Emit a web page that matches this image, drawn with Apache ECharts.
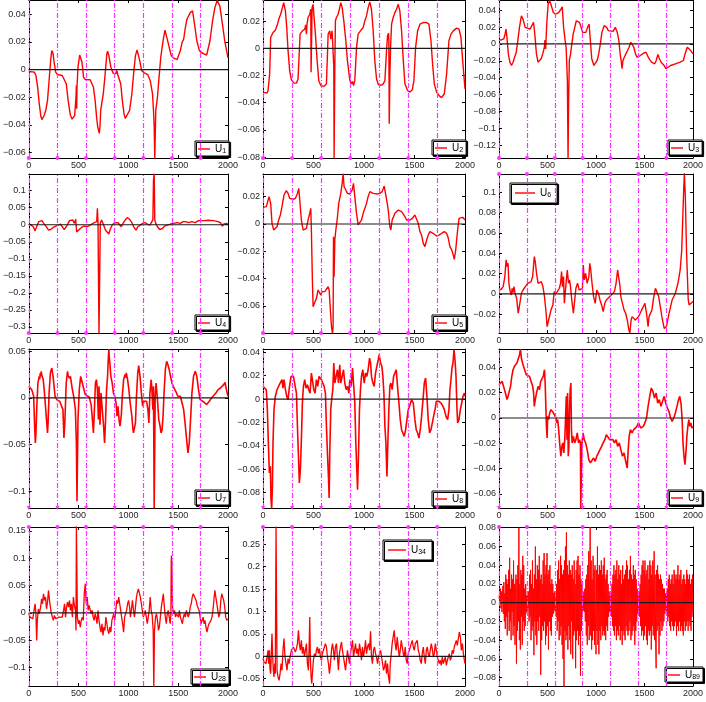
<!DOCTYPE html>
<html><head><meta charset="utf-8">
<script src="https://cdn.jsdelivr.net/npm/echarts@6/dist/echarts.min.js"></script>
<style>html,body{margin:0;padding:0;background:#fff}#c{width:706px;height:702px}</style>
</head><body><div id="c"></div>
<script>
// ---------------- data ----------------
const xTicks = [0, 500, 1000, 1500, 2000];
const vlineX = [0, 288, 575, 863, 1150, 1438, 1725];

const u1 = [[0,-0.0014],[56,-0.0019],[72,-0.0043],[89,-0.0127],[105,-0.0247],[122,-0.0342],[132,-0.0362],[155,-0.0331],[171,-0.0295],[188,-0.0223],[204,-0.0079],[221,0.0077],[231,0.0137],[244,0.0117],[254,0.0053],[270,-0.0019],[287,-0.0036],[336,-0.0043],[353,-0.0055],[376,-0.0103],[395,-0.0223],[418,-0.0331],[435,-0.0359],[451,-0.0347],[461,-0.0331],[474,-0.0199],[478,-0.0115],[481,-0.0283],[484,-0.0127],[494,0.0017],[511,0.0105],[524,0.0093],[534,0.0053],[550,-0.0055],[567,-0.0072],[616,-0.0074],[633,-0.0079],[649,-0.0127],[666,-0.0223],[682,-0.0354],[692,-0.0414],[699,-0.0426],[702,-0.0402],[708,-0.0462],[715,-0.0414],[722,-0.0295],[748,-0.0175],[764,-0.0055],[784,0.0113],[791,0.0132],[804,0.0101],[824,0.0017],[847,-0.0026],[873,-0.0031],[883,-0.0007],[893,-0.0036],[913,-0.0050],[923,-0.0103],[939,-0.0223],[956,-0.0319],[969,-0.0354],[982,-0.0359],[1012,-0.0295],[1035,-0.0175],[1054,-0.0019],[1071,0.0101],[1087,0.0141],[1110,0.0077],[1133,-0.0007],[1160,-0.0024],[1193,-0.0036],[1219,-0.0079],[1242,-0.0175],[1252,-0.0295],[1259,-0.0414],[1265,-0.0645],[1272,-0.0645],[1275,-0.0295],[1292,-0.0199],[1308,-0.0055],[1325,0.0089],[1348,0.0208],[1367,0.0285],[1390,0.0220],[1410,0.0160],[1430,0.0101],[1450,0.0084],[1489,0.0072],[1506,0.0084],[1522,0.0137],[1539,0.0196],[1555,0.0220],[1572,0.0304],[1588,0.0364],[1621,0.0412],[1644,0.0424],[1664,0.0328],[1687,0.0208],[1713,0.0137],[1746,0.0117],[1786,0.0105],[1802,0.0113],[1819,0.0208],[1845,0.0352],[1868,0.0448],[1891,0.0500],[1918,0.0460],[1944,0.0328],[1967,0.0208],[2000,0.0084]];

const u2 = [[0,-0.0322],[17,-0.0329],[40,-0.0329],[50,-0.0310],[66,-0.0188],[76,0.0080],[99,0.0117],[122,0.0134],[142,0.0173],[159,0.0222],[175,0.0251],[192,0.0300],[205,0.0337],[222,0.0276],[235,0.0154],[248,-0.0017],[264,-0.0163],[281,-0.0232],[307,-0.0256],[331,-0.0256],[347,-0.0224],[357,-0.0066],[367,0.0105],[390,0.0129],[413,0.0141],[423,0.0173],[430,0.0105],[436,0.0178],[446,0.0227],[463,0.0251],[473,0.0288],[476,-0.0176],[479,-0.0176],[486,0.0300],[496,0.0324],[502,0.0263],[519,0.0105],[536,-0.0090],[552,-0.0237],[572,-0.0273],[605,-0.0280],[628,-0.0261],[645,0.0105],[661,0.0129],[671,0.0068],[684,0.0129],[694,0.0117],[701,-0.0139],[704,-0.0810],[708,-0.0810],[711,-0.0139],[717,0.0202],[727,0.0227],[744,0.0251],[760,0.0300],[770,0.0337],[784,0.0300],[800,0.0202],[820,0.0056],[836,-0.0090],[860,-0.0237],[876,-0.0261],[886,-0.0244],[896,-0.0273],[909,-0.0237],[926,0.0007],[942,0.0105],[965,0.0129],[992,0.0154],[1008,0.0202],[1025,0.0239],[1041,0.0300],[1058,0.0341],[1074,0.0288],[1091,0.0129],[1107,-0.0090],[1124,-0.0224],[1141,-0.0266],[1167,-0.0273],[1190,-0.0261],[1207,-0.0237],[1223,-0.0017],[1233,0.0093],[1243,0.0112],[1246,0.0056],[1250,-0.0554],[1253,-0.0383],[1256,-0.0212],[1263,0.0007],[1273,0.0178],[1289,0.0227],[1306,0.0263],[1322,0.0288],[1339,0.0324],[1355,0.0276],[1372,0.0129],[1389,-0.0090],[1405,-0.0261],[1431,-0.0310],[1455,-0.0322],[1478,-0.0305],[1494,-0.0237],[1511,0.0007],[1531,0.0129],[1554,0.0178],[1587,0.0190],[1620,0.0190],[1643,0.0178],[1663,0.0056],[1679,-0.0115],[1696,-0.0261],[1719,-0.0322],[1742,-0.0346],[1769,-0.0363],[1795,-0.0334],[1818,-0.0188],[1841,0.0056],[1861,0.0105],[1884,0.0129],[1917,0.0149],[1941,0.0141],[1960,0.0080],[1977,-0.0090],[2000,-0.0298]];

const u3 = [[0,0.0047],[23,0.0047],[49,0.0059],[63,0.0118],[72,0.0176],[82,0.0078],[96,-0.0118],[112,-0.0216],[129,-0.0255],[145,-0.0216],[161,-0.0157],[178,-0.0098],[194,0.0039],[211,0.0196],[231,0.0333],[247,0.0294],[270,0.0196],[287,0.0176],[320,0.0176],[336,0.0196],[356,0.0255],[369,0.0118],[386,-0.0118],[402,-0.0216],[418,-0.0235],[435,-0.0176],[451,-0.0118],[468,-0.0039],[474,0.0047],[481,-0.0059],[494,0.0274],[507,0.0470],[521,0.0515],[540,0.0451],[560,0.0372],[583,0.0353],[616,0.0372],[639,0.0412],[652,0.0439],[666,0.0196],[682,0.0039],[692,-0.0039],[705,-0.0431],[712,-0.1360],[715,-0.1360],[718,-0.0666],[725,-0.0196],[738,-0.0118],[751,0],[765,0.0118],[781,0.0196],[797,0.0274],[811,0.0294],[830,0.0255],[847,0.0196],[863,0.0137],[880,0.0157],[896,0.0137],[913,0.0196],[929,0.0235],[942,0.0039],[956,-0.0176],[979,-0.0255],[995,-0.0235],[1012,-0.0196],[1028,-0.0118],[1045,0],[1061,0.0137],[1084,0.0216],[1110,0.0196],[1127,0.0157],[1143,0.0137],[1176,0.0149],[1199,0.0196],[1219,0.0137],[1236,0.0039],[1249,-0.0118],[1259,-0.0196],[1269,-0.0294],[1278,-0.0196],[1292,-0.0157],[1308,-0.0118],[1325,-0.0078],[1341,-0.0039],[1358,0.0020],[1374,0.0008],[1390,-0.0039],[1407,-0.0118],[1423,-0.0157],[1456,-0.0137],[1489,-0.0110],[1516,-0.0098],[1539,-0.0157],[1555,-0.0188],[1572,-0.0216],[1588,-0.0216],[1605,-0.0235],[1621,-0.0196],[1638,-0.0125],[1654,-0.0176],[1671,-0.0216],[1687,-0.0235],[1703,-0.0255],[1720,-0.0294],[1736,-0.0274],[1769,-0.0255],[1819,-0.0235],[1868,-0.0216],[1901,-0.0196],[1918,-0.0118],[1941,-0.0039],[1957,-0.0059],[1977,-0.0078],[2000,-0.0118]];

const u4 = [[0,0.002],[23,-0.001],[46,-0.006],[63,-0.018],[79,-0.006],[99,0.009],[115,0.014],[132,0.012],[145,0.006],[165,0.002],[181,-0.008],[198,-0.016],[221,-0.014],[244,-0.008],[264,-0.004],[297,-0.001],[320,0.002],[336,-0.006],[356,-0.014],[376,-0.006],[395,0.004],[409,0.012],[425,0.009],[442,0.014],[458,0.004],[471,0.016],[474,0.014],[481,-0.021],[494,-0.016],[517,-0.011],[550,-0.004],[587,-0.006],[606,-0.001],[633,0.002],[659,0.006],[682,0.009],[689,0.048],[695,0.004],[705,-0.320],[712,-0.320],[718,0.004],[731,0.014],[741,0.009],[758,-0.006],[771,-0.016],[791,-0.018],[804,-0.027],[817,-0.014],[837,-0.001],[863,0.006],[880,0.004],[896,0.006],[913,0.002],[929,-0.006],[946,0.004],[969,0.014],[988,0.021],[1012,0.016],[1035,0.006],[1054,-0.006],[1077,-0.016],[1094,-0.006],[1120,-0.001],[1143,0.004],[1166,0.006],[1193,0.002],[1216,-0.001],[1232,0.004],[1246,0.014],[1249,0.073],[1252,0.131],[1259,0.150],[1262,0.150],[1265,0.014],[1275,0.004],[1292,-0.006],[1315,-0.014],[1341,-0.011],[1364,-0.004],[1390,-0.001],[1423,0.002],[1456,0.004],[1489,0.006],[1522,0.004],[1549,0.009],[1572,0.009],[1605,0.006],[1638,0.009],[1671,0.006],[1704,0.012],[1753,0.012],[1802,0.013],[1852,0.012],[1901,0.009],[1924,0.006],[1944,-0.004],[1957,0.002],[1984,0.004],[2000,0.002]];

const u5 = [[0,0.0122],[33,0.0127],[50,0.0139],[60,0.0200],[69,0.0212],[76,0.0151],[89,0.0005],[106,-0.0044],[122,-0.0056],[139,-0.0020],[155,0.0029],[172,0.0066],[188,0.0127],[208,0.0212],[231,0.0244],[248,0.0224],[264,0.0188],[298,0.0181],[321,0.0188],[341,0.0224],[354,0.0261],[364,0.0176],[380,0.0029],[397,-0.0044],[413,-0.0056],[430,-0.0032],[446,0.0029],[463,0.0078],[473,0.0115],[479,-0.0044],[489,-0.0410],[496,-0.0605],[512,-0.0593],[529,-0.0544],[545,-0.0483],[562,-0.0471],[572,-0.0520],[585,-0.0495],[595,-0.0508],[612,-0.0495],[628,-0.0488],[645,-0.0459],[655,-0.0483],[665,-0.0605],[678,-0.0752],[688,-0.0800],[694,-0.0752],[698,-0.0093],[704,-0.0386],[711,-0.0117],[721,-0.0044],[734,0.0029],[750,0.0151],[770,0.0224],[784,0.0298],[793,0.0370],[803,0.0273],[820,0.0249],[836,0.0224],[860,0.0220],[883,0.0249],[896,0.0298],[909,0.0200],[926,0.0078],[942,-0.0007],[959,-0.0020],[975,0.0029],[992,0.0078],[1008,0.0090],[1025,0.0151],[1041,0.0200],[1058,0.0237],[1074,0.0249],[1091,0.0224],[1107,0.0212],[1134,0.0220],[1157,0.0224],[1180,0.0237],[1200,0.0278],[1213,0.0224],[1230,0.0151],[1240,0.0102],[1256,-0.0020],[1266,-0.0044],[1279,0.0029],[1293,0.0054],[1306,0.0078],[1322,0.0090],[1339,0.0102],[1355,0.0107],[1372,0.0090],[1389,0.0078],[1405,0.0054],[1422,0.0029],[1438,0.0017],[1455,0.0029],[1478,0.0041],[1504,0.0066],[1521,0.0054],[1537,0.0005],[1554,-0.0056],[1570,-0.0081],[1587,-0.0142],[1603,-0.0166],[1620,-0.0117],[1636,-0.0081],[1653,-0.0056],[1670,-0.0063],[1693,-0.0073],[1719,-0.0088],[1742,-0.0081],[1769,-0.0068],[1795,-0.0056],[1818,-0.0068],[1835,-0.0105],[1851,-0.0166],[1868,-0.0190],[1884,-0.0227],[1894,-0.0259],[1908,-0.0190],[1927,-0.0044],[1941,0.0041],[1960,0.0054],[1977,0.0049],[2000,0.0029]];

const u6 = [[0,0.0039],[23,0.0046],[43,0.0072],[60,0.0171],[73,0.0335],[83,0.0269],[93,0.0302],[102,0.0105],[116,0.0023],[126,-0.0010],[136,0.0056],[145,0.0013],[155,0.0072],[165,0.0007],[182,-0.0043],[198,-0.0190],[215,-0.0092],[231,0.0007],[248,0.0039],[271,0.0072],[298,0.0105],[331,0.0121],[347,0.0171],[364,0.0367],[374,0.0318],[387,0.0203],[403,0.0105],[420,0.0089],[436,0.0121],[453,0.0072],[469,-0.0026],[486,-0.0190],[496,-0.0321],[512,-0.0256],[536,-0.0157],[555,-0.0108],[569,0.0023],[582,0],[602,0.0023],[622,0.0056],[635,0.0105],[645,0.0220],[655,0.0072],[665,0.0171],[674,-0.0092],[688,0.0072],[704,0.0236],[717,0.0105],[727,0.0138],[737,0.0072],[750,-0.0059],[767,-0.0190],[777,-0.0092],[793,0.0056],[810,0.0105],[827,0.0039],[843,0.0056],[860,0.0056],[869,0.0285],[879,0.0138],[893,0.0203],[909,0.0105],[926,0.0171],[936,0.0302],[946,0.0236],[959,0.0105],[975,-0.0026],[992,-0.0092],[1008,0.0039],[1025,0.0007],[1041,-0.0059],[1058,-0.0108],[1074,-0.0174],[1091,-0.0092],[1107,-0.0059],[1124,-0.0043],[1157,-0.0010],[1190,0.0023],[1207,0.0105],[1223,0.0236],[1233,0.0171],[1246,0.0089],[1256,-0.0026],[1273,-0.0092],[1289,-0.0157],[1306,-0.0190],[1322,-0.0256],[1339,-0.0354],[1349,-0.0385],[1362,-0.0256],[1372,-0.0223],[1389,-0.0239],[1405,-0.0256],[1422,-0.0239],[1438,-0.0223],[1455,-0.0190],[1471,-0.0157],[1488,-0.0125],[1504,-0.0092],[1521,-0.0190],[1537,-0.0321],[1547,-0.0223],[1560,-0.0239],[1577,-0.0157],[1593,-0.0043],[1613,0.0056],[1630,0.0072],[1646,-0.0026],[1663,-0.0125],[1679,-0.0223],[1703,-0.0338],[1726,-0.0321],[1746,-0.0223],[1769,-0.0125],[1785,-0.0059],[1818,0.0007],[1845,0.0105],[1868,0.0236],[1884,0.0433],[1894,0.0728],[1904,0.1023],[1911,0.1190],[1921,0.0958],[1934,0.0400],[1951,-0.0059],[1960,-0.0108],[1977,-0.0092],[2000,-0.0075]];

const u7 = [[0,0.0125],[13,0.0107],[30,0.0089],[40,0.0054],[49,0.0018],[59,-0.0303],[66,-0.0482],[72,-0.0375],[82,-0.0054],[92,0.0161],[99,0.0140],[105,0.0232],[110,0.0200],[115,0.0268],[120,0.0230],[125,0.0286],[130,0.0250],[135,0.0232],[145,0.0196],[155,0.0089],[165,-0.0054],[178,-0.0232],[188,-0.0375],[194,-0.0268],[204,0.0054],[217,0.0268],[231,0.0321],[244,0.0232],[254,0.0125],[264,0.0018],[287,-0.0025],[310,-0.0036],[330,-0.0054],[343,-0.0125],[353,-0.0428],[362,-0.0268],[376,0.0161],[389,0.0286],[395,0.0240],[402,0.0250],[410,0.0210],[418,0.0232],[435,0.0107],[451,0.0018],[468,-0.0125],[478,-0.0482],[484,-0.1107],[491,-0.0482],[494,-0.0232],[507,0.0089],[521,0.0232],[528,0.0200],[534,0.0179],[550,0.0107],[567,0.0036],[583,0.0018],[606,0.0011],[626,-0.0071],[639,-0.0232],[649,-0.0375],[659,-0.0125],[669,0.0161],[679,0.0196],[689,0.0089],[699,-0.0232],[705,0.0125],[715,-0.0286],[725,0.0054],[738,-0.0125],[751,-0.0303],[761,-0.0482],[771,-0.0232],[781,0.0089],[791,0.0232],[797,0.0393],[804,0.0525],[809,0.0420],[814,0.0375],[824,0.0232],[837,0.0161],[850,0.0054],[863,0.0018],[876,-0.0054],[886,-0.0196],[896,-0.0089],[906,-0.0232],[916,-0.0303],[929,-0.0179],[939,0.0018],[952,0.0196],[965,0.0250],[972,0.0220],[979,0.0268],[992,0.0196],[1005,0.0089],[1018,-0.0054],[1035,-0.0196],[1045,-0.0330],[1051,-0.0375],[1061,-0.0393],[1071,-0.0268],[1081,0.0018],[1094,0.0268],[1104,0.0346],[1117,0.0232],[1130,0.0054],[1143,-0.0089],[1157,-0.0036],[1170,-0.0054],[1183,-0.0036],[1196,-0.0125],[1206,-0.0268],[1216,0.0054],[1229,0.0196],[1236,0.0089],[1246,-0.0125],[1252,0.0125],[1259,-0.1185],[1265,-0.1185],[1269,0.0018],[1278,0.0161],[1292,-0.0018],[1305,-0.0232],[1318,-0.0303],[1328,-0.0375],[1338,-0.0339],[1348,-0.0196],[1358,0.0054],[1371,0.0303],[1384,0.0393],[1397,0.0357],[1410,0.0303],[1423,0.0232],[1437,0.0161],[1450,0.0125],[1463,0.0107],[1483,0.0054],[1496,0.0018],[1509,0.0036],[1522,0.0018],[1539,-0.0054],[1555,-0.0125],[1572,-0.0303],[1588,-0.0482],[1598,-0.0589],[1611,-0.0482],[1624,-0.0232],[1638,0.0054],[1654,0.0232],[1671,0.0286],[1687,0.0232],[1704,0.0089],[1720,-0.0018],[1736,-0.0036],[1760,-0.0046],[1786,-0.0071],[1812,-0.0036],[1835,0],[1852,0.0018],[1878,0.0054],[1901,0.0089],[1924,0.0107],[1944,0.0125],[1957,0.0143],[1970,0.0168],[1984,0.0089],[2000,0.0018]];

const u8 = [[0,0.0109],[17,0.0094],[33,0.0080],[43,-0.0091],[53,-0.0377],[63,-0.0634],[73,-0.0577],[79,-0.0857],[86,-0.0940],[93,-0.0749],[99,-0.0377],[109,-0.0091],[122,0.0023],[139,0.0080],[149,0.0066],[162,0.0123],[175,0.0137],[188,0.0166],[198,0.0094],[208,0.0166],[222,0.0080],[235,0.0023],[248,-0.0006],[258,0.0080],[268,0.0137],[278,0.0194],[288,0.0194],[301,0.0194],[314,0.0180],[331,0.0051],[341,-0.0234],[350,-0.0463],[360,-0.0720],[370,-0.0606],[380,-0.0349],[390,-0.0034],[400,0.0109],[413,0.0166],[426,0.0094],[440,0.0123],[453,0.0080],[466,0.0051],[479,0.0223],[489,0.0166],[503,0.0080],[516,0.0051],[529,0.0166],[542,0.0109],[555,0.0194],[565,0.0180],[579,0.0166],[592,0.0137],[605,0.0109],[618,0.0051],[628,-0.0234],[638,-0.0463],[648,-0.0663],[655,-0.0849],[661,-0.0463],[671,-0.0091],[681,0.0009],[691,0.0080],[701,0.0309],[711,0.0137],[724,0.0194],[737,0.0251],[747,0.0137],[760,0.0294],[770,0.0137],[784,0.0194],[797,0.0251],[810,0.0137],[823,0.0080],[836,0.0109],[850,0.0051],[860,0.0166],[873,0.0109],[886,0.0266],[896,0.0137],[909,-0.0034],[919,-0.0377],[929,-0.0606],[936,-0.0777],[946,-0.0463],[955,-0.0091],[965,0.0080],[975,0.0194],[988,0.0251],[1002,0.0137],[1015,0.0223],[1028,0.0194],[1041,0.0251],[1055,0.0351],[1065,0.0309],[1074,0.0194],[1088,0.0137],[1101,0.0109],[1114,0.0223],[1127,0.0280],[1141,0.0337],[1150,0.0380],[1164,0.0309],[1177,0.0280],[1187,0.0194],[1197,0.0051],[1207,-0.0234],[1217,-0.0377],[1227,-0.0663],[1236,-0.0377],[1246,-0.0091],[1256,0.0109],[1266,0.0137],[1279,0.0080],[1293,0.0194],[1306,0.0223],[1319,0.0251],[1332,0.0109],[1346,-0.0034],[1359,-0.0177],[1372,-0.0263],[1385,-0.0291],[1398,-0.0320],[1412,-0.0263],[1425,-0.0177],[1438,-0.0091],[1455,-0.0049],[1471,-0.0006],[1488,-0.0034],[1504,-0.0177],[1517,-0.0263],[1531,-0.0291],[1544,-0.0334],[1557,-0.0263],[1570,-0.0149],[1584,-0.0006],[1597,0.0137],[1610,0.0180],[1623,0.0023],[1636,-0.0177],[1650,-0.0291],[1663,-0.0263],[1676,-0.0206],[1689,-0.0149],[1703,-0.0091],[1716,-0.0020],[1729,-0.0006],[1742,-0.0020],[1762,-0.0034],[1782,-0.0063],[1795,-0.0091],[1812,-0.0149],[1828,-0.0177],[1841,-0.0091],[1851,0.0080],[1861,0.0166],[1871,0.0266],[1881,0.0309],[1891,0.0425],[1901,0.0337],[1911,0.0194],[1921,-0.0091],[1927,-0.0206],[1940,-0.0177],[1954,-0.0091],[1967,-0.0034],[1980,0.0023],[1994,0.0051],[2000,0.0023]];

const u9 = [[0,0.0263],[17,0.0276],[33,0.0289],[50,0.0276],[66,0.0197],[83,0.0145],[93,0.0171],[106,0.0210],[119,0.0250],[132,0.0329],[145,0.0381],[159,0.0408],[172,0.0395],[185,0.0434],[198,0.0447],[212,0.0500],[221,0.0545],[231,0.0473],[248,0.0421],[264,0.0381],[281,0.0342],[298,0.0329],[314,0.0329],[331,0.0316],[347,0.0250],[357,0.0197],[364,0.0092],[374,0.0145],[387,0.0197],[403,0.0250],[417,0.0224],[430,0.0289],[443,0.0276],[456,0.0329],[469,0.0381],[476,0.0276],[483,0.0092],[489,-0.0066],[496,-0.0158],[502,0.0013],[512,-0.0013],[522,0.0039],[536,0.0066],[549,0.0053],[562,0.0039],[579,0.0026],[588,0],[595,-0.0039],[605,-0.0013],[615,-0.0092],[625,-0.0197],[638,-0.0302],[648,-0.0224],[658,-0.0197],[668,-0.0276],[678,-0.0171],[688,0.0039],[694,0.0171],[701,-0.0171],[707,0.0197],[714,-0.0302],[721,-0.0224],[727,0.0066],[734,0.0224],[741,0.0276],[747,-0.0092],[754,-0.0197],[767,-0.0145],[780,-0.0197],[793,-0.0171],[807,-0.0118],[820,-0.0197],[830,-0.0171],[840,-0.0197],[843,-0.0720],[850,-0.0720],[853,-0.0224],[866,-0.0118],[879,-0.0171],[893,-0.0197],[909,-0.0250],[926,-0.0329],[942,-0.0355],[959,-0.0342],[975,-0.0316],[992,-0.0342],[1008,-0.0302],[1025,-0.0276],[1041,-0.0250],[1058,-0.0224],[1074,-0.0197],[1091,-0.0171],[1107,-0.0132],[1124,-0.0145],[1141,-0.0171],[1157,-0.0158],[1174,-0.0171],[1190,-0.0197],[1207,-0.0171],[1223,-0.0224],[1240,-0.0197],[1256,-0.0250],[1273,-0.0302],[1289,-0.0276],[1306,-0.0342],[1322,-0.0395],[1332,-0.0250],[1342,-0.0145],[1355,-0.0092],[1372,-0.0118],[1389,-0.0092],[1405,-0.0079],[1422,-0.0066],[1438,-0.0039],[1448,-0.0053],[1461,-0.0079],[1474,-0.0092],[1488,-0.0066],[1504,-0.0039],[1521,0],[1537,0.0092],[1554,0.0171],[1570,0.0237],[1587,0.0210],[1603,0.0158],[1620,0.0197],[1636,0.0118],[1653,0.0145],[1670,0.0092],[1686,0.0132],[1703,0.0171],[1719,0.0118],[1736,0.0079],[1752,0.0053],[1769,0],[1785,-0.0026],[1802,0],[1818,0.0039],[1835,0.0092],[1851,0.0145],[1864,0.0171],[1878,0.0105],[1888,-0.0013],[1897,-0.0197],[1907,-0.0302],[1917,-0.0368],[1927,-0.0276],[1937,-0.0145],[1947,-0.0066],[1957,-0.0013],[1967,-0.0066],[1977,-0.0039],[1990,-0.0079],[2000,-0.0066]];

const u28 = [[0,-0.0018],[13,-0.0079],[26,-0.0049],[40,-0.0110],[53,0.0043],[63,0.0165],[72,-0.0018],[79,-0.0506],[86,-0.0140],[96,0.0073],[105,-0.0018],[119,0.0104],[129,0.0256],[138,0.0165],[148,0.0348],[158,0.0226],[168,0.0287],[178,0.0073],[188,0.0195],[198,0.0409],[208,0.0226],[217,0.0104],[227,-0.0018],[237,-0.0079],[247,-0.0140],[257,-0.0049],[270,-0.0110],[287,-0.0140],[303,-0.0079],[320,-0.0110],[336,-0.0079],[349,0.0043],[359,0.0165],[369,-0.0079],[379,0.0104],[389,0.0195],[399,0.0104],[409,0.0226],[418,0.0043],[428,0.0165],[438,-0.0079],[448,0.0287],[458,0.0134],[468,0.0043],[474,-0.0323],[478,0.1600],[484,0.1600],[488,-0.0079],[498,-0.0201],[507,-0.0140],[517,-0.0262],[527,-0.0140],[537,-0.0079],[547,-0.0140],[557,0.0348],[567,0.0531],[577,0.0165],[587,0.0287],[596,0.0043],[606,0.0134],[616,0.0104],[626,-0.0018],[636,0.0043],[646,-0.0079],[656,-0.0140],[666,-0.0018],[675,-0.0079],[685,-0.0201],[695,0.0043],[705,-0.0140],[715,-0.0262],[725,-0.0354],[735,-0.0201],[745,-0.0415],[755,-0.0262],[764,-0.0323],[774,-0.0079],[784,-0.0201],[794,-0.0323],[804,-0.0384],[814,-0.0262],[824,-0.0354],[834,-0.0140],[844,-0.0079],[853,-0.0018],[863,-0.0140],[873,0.0043],[883,0.0226],[893,0.0165],[903,0.0287],[913,0.0165],[923,0.0043],[932,-0.0079],[942,-0.0201],[952,-0.0354],[962,-0.0079],[972,-0.0018],[982,0.0043],[992,0.0165],[1002,0.0226],[1012,0.0104],[1021,-0.0079],[1031,0.0073],[1041,0.0226],[1051,0.0043],[1061,-0.0079],[1071,0.0104],[1081,0.0287],[1091,0.0378],[1101,0.0439],[1110,0.0409],[1120,0.0287],[1130,0.0165],[1140,0.0043],[1150,-0.0079],[1160,-0.0018],[1170,0.0043],[1180,-0.0079],[1190,-0.0201],[1199,-0.0079],[1209,0.0043],[1219,0.0287],[1229,0.0043],[1239,-0.0049],[1249,-0.0323],[1255,-0.1400],[1259,-0.1400],[1262,-0.0323],[1272,-0.0079],[1282,-0.0018],[1292,-0.0140],[1302,-0.0323],[1311,-0.0262],[1321,-0.0079],[1331,0.0104],[1341,0.0226],[1351,0.0348],[1361,0.0104],[1371,-0.0079],[1381,-0.0201],[1390,-0.0018],[1400,0.0043],[1410,-0.0079],[1420,-0.0201],[1427,-0.0018],[1430,0.0958],[1433,0.1049],[1437,0.0836],[1443,0.0104],[1453,-0.0018],[1463,0.0043],[1473,-0.0079],[1483,-0.0018],[1493,-0.0049],[1503,-0.0079],[1512,0.0043],[1522,-0.0079],[1532,-0.0140],[1542,-0.0201],[1552,-0.0079],[1562,-0.0018],[1572,-0.0079],[1582,0.0043],[1592,-0.0018],[1601,-0.0079],[1611,-0.0018],[1621,0.0104],[1631,0.0165],[1641,0.0287],[1651,0.0348],[1661,0.0378],[1671,0.0317],[1680,0.0226],[1690,0.0134],[1700,0.0104],[1710,0.0043],[1720,-0.0079],[1730,-0.0201],[1740,-0.0140],[1750,-0.0079],[1760,-0.0201],[1769,-0.0140],[1779,-0.0262],[1789,-0.0354],[1799,-0.0262],[1809,-0.0201],[1819,-0.0171],[1829,-0.0140],[1839,-0.0079],[1849,0.0043],[1858,0.0226],[1868,0.0409],[1878,0.0287],[1888,0.0165],[1898,0.0043],[1908,-0.0079],[1918,-0.0018],[1928,0.0226],[1937,0.0348],[1947,0.0287],[1957,0.0226],[1967,0.0104],[1977,-0.0079],[1987,-0.0140],[2000,-0.0110]];

const u34 = [[0,-0.0052],[10,-0.0126],[20,-0.0089],[30,-0.0164],[40,-0.0201],[50,0.0134],[56,-0.0164],[63,0.0134],[69,-0.0275],[76,-0.0387],[83,0.0134],[89,0.0506],[96,-0.0015],[102,-0.0312],[109,-0.0461],[116,-0.0164],[122,-0.0387],[129,0.2900],[136,0.2900],[139,-0.0312],[149,-0.0461],[159,-0.0536],[169,-0.0387],[179,-0.0164],[188,-0.0312],[198,0.0134],[208,0.0394],[218,-0.0015],[228,-0.0164],[238,-0.0312],[248,-0.0052],[258,-0.0164],[268,-0.0015],[281,0.0134],[291,0.0171],[301,0.0208],[311,0.0246],[321,0.0097],[331,0.0171],[341,0.0283],[351,0.0580],[360,0.0283],[370,0.0134],[380,0.0357],[390,0.0060],[400,0.0208],[410,-0.0015],[420,0.0134],[430,0.0283],[440,-0.0164],[450,-0.0312],[456,0.0134],[463,0.0878],[469,-0.0015],[476,-0.0461],[483,-0.0610],[489,-0.0387],[499,-0.0089],[509,0.0060],[519,-0.0015],[529,0.0134],[539,0.0208],[549,0.0060],[559,0.0171],[569,-0.0015],[579,-0.0089],[588,0.0060],[598,0.0134],[608,0.0208],[618,0.0283],[628,0.0208],[638,-0.0015],[648,-0.0164],[658,-0.0387],[668,-0.0164],[678,0.0134],[688,0.0283],[698,0.0134],[707,-0.0089],[717,0.0208],[727,0.0283],[737,-0.0015],[747,-0.0312],[757,0.0060],[767,0.0208],[777,0.0320],[787,0.0134],[797,-0.0015],[807,-0.0164],[817,-0.0312],[827,-0.0089],[836,0.0134],[846,-0.0015],[856,-0.0164],[866,0.0060],[876,0.0208],[886,0.0357],[896,-0.0015],[906,0.0134],[916,0.0283],[926,0.0060],[936,0.0171],[946,-0.0015],[955,0.0283],[965,0.0134],[975,-0.0089],[985,0.0208],[995,-0.0015],[1005,0.0134],[1015,0.0357],[1025,0.0060],[1035,0.0208],[1045,0.0283],[1055,0.0134],[1065,0.0558],[1074,-0.0015],[1084,-0.0164],[1094,0.0134],[1104,0.0208],[1114,0.0060],[1124,-0.0015],[1134,-0.0164],[1144,-0.0015],[1154,0.0060],[1164,0.0134],[1174,-0.0015],[1184,-0.0164],[1193,-0.0312],[1203,-0.0238],[1213,-0.0089],[1223,-0.0387],[1233,-0.0164],[1243,-0.0461],[1253,-0.0610],[1260,-0.0164],[1270,0.0060],[1279,0.0283],[1289,0.0432],[1299,0.0580],[1309,0.0283],[1319,0.0134],[1329,0.0432],[1339,0.0208],[1349,-0.0015],[1359,0.0134],[1369,0.0357],[1379,0.0208],[1389,0.0060],[1398,-0.0015],[1408,0.0208],[1418,-0.0089],[1428,-0.0164],[1438,0.0060],[1448,0.0134],[1458,0.0208],[1468,0.0283],[1478,0.0357],[1488,0.0208],[1498,0.0134],[1508,0.0283],[1517,0.0246],[1527,0.0357],[1537,0.0134],[1547,0.0060],[1557,-0.0089],[1567,-0.0164],[1577,0.0060],[1587,0.0208],[1597,-0.0015],[1607,-0.0164],[1617,0.0134],[1627,0.0208],[1636,0.0060],[1646,-0.0015],[1656,0.0134],[1666,0.0283],[1676,0.0171],[1686,-0.0015],[1696,0.0060],[1706,0.0283],[1716,0.0134],[1726,-0.0015],[1736,-0.0089],[1746,-0.0164],[1755,-0.0089],[1765,-0.0201],[1775,-0.0015],[1785,-0.0164],[1795,-0.0089],[1805,-0.0015],[1815,-0.0201],[1825,-0.0089],[1835,-0.0015],[1845,0.0060],[1855,-0.0089],[1865,-0.0015],[1874,0.0134],[1884,0.0060],[1894,0.0208],[1904,0.0283],[1914,0.0357],[1924,0.0246],[1934,0.0283],[1944,0.0543],[1954,0.0432],[1964,0.0134],[1974,0.0283],[1984,0.0060],[1994,-0.0089],[2000,-0.0164]];

// U89 read every 5 units of x, starting at 0
const u89Step = 5;
const u89Y = [
 0.004,0.010,0.002,0.015,-0.006,0.012,-0.010,0.005,0.018,-0.012,0.022,-0.020,0.010,-0.028,0.030,-0.015,0.025,-0.035,0.020,-0.010,
 0.035,-0.030,0.048,-0.020,0.015,-0.040,0.030,-0.010,0.025,-0.035,0.045,-0.025,0.020,-0.045,0.010,0.030,-0.065,0.025,-0.030,0.040,
 -0.020,0.080,-0.040,0.020,-0.050,0.035,-0.015,0.030,-0.045,0.050,-0.020,0.040,-0.030,0.015,-0.025,0.020,-0.010,0.008,-0.012,0.010,
 -0.006,0.012,-0.020,0.030,-0.015,0.035,-0.040,0.020,-0.030,0.045,-0.025,0.015,-0.056,0.030,-0.020,0.060,-0.035,0.025,-0.045,0.040,
 -0.020,0.035,-0.030,0.050,-0.015,0.025,-0.077,0.030,-0.040,0.020,-0.025,0.045,-0.030,0.053,-0.020,0.030,-0.045,0.040,-0.035,0.053,
 -0.025,0.030,-0.050,0.035,-0.020,0.040,-0.030,0.020,-0.035,0.025,-0.015,0.020,-0.012,0.010,-0.008,0.012,-0.010,0.006,-0.015,0.020,
 -0.030,0.035,-0.020,0.045,-0.040,0.025,-0.035,0.050,-0.025,0.040,-0.045,0.030,-0.060,0.035,-0.090,0.045,-0.030,0.060,-0.040,0.075,
 -0.035,0.040,-0.050,0.030,-0.025,0.045,-0.040,0.035,-0.055,0.030,-0.020,0.040,-0.060,0.025,-0.035,0.045,-0.030,0.020,-0.070,0.035,
 -0.040,0.045,-0.030,0.050,-0.045,0.030,-0.035,0.040,-0.078,0.025,-0.030,0.020,-0.015,0.010,-0.008,0.012,-0.010,0.015,-0.020,0.025,
 -0.035,0.030,-0.045,0.040,-0.025,0.055,-0.040,0.030,0.081,-0.035,0.045,-0.050,0.025,-0.040,0.050,-0.030,0.035,-0.045,0.040,-0.025,
 -0.055,0.035,-0.030,0.060,-0.045,0.030,-0.055,0.040,-0.030,0.035,-0.040,0.045,-0.025,0.030,-0.035,0.040,-0.030,0.048,-0.035,0.025,
 -0.040,0.030,-0.025,0.035,-0.030,0.020,-0.015,0.012,-0.010,0.008,-0.012,0.010,-0.015,0.020,-0.025,0.030,-0.030,0.040,-0.035,0.030,
 -0.025,0.035,-0.040,0.045,-0.030,0.025,-0.035,0.040,-0.025,0.030,-0.040,0.035,-0.030,0.020,-0.045,0.040,-0.030,0.025,-0.035,0.030,
 -0.040,0.035,-0.025,0.045,-0.030,0.040,-0.035,0.025,-0.030,0.035,-0.020,0.050,-0.040,0.030,-0.035,0.025,-0.030,0.040,-0.025,0.030,
 -0.045,0.035,-0.030,0.025,-0.020,0.015,-0.012,0.010,-0.008,0.012,-0.015,0.020,-0.025,0.030,-0.035,0.040,-0.030,0.045,-0.040,0.035,
 -0.035,0.045,-0.025,0.030,-0.040,0.035,-0.045,0.040,-0.030,0.025,-0.035,0.045,-0.030,0.040,-0.050,0.030,-0.025,0.045,-0.035,0.030,
 0.055,-0.040,0.030,-0.045,-0.070,0.035,-0.030,0.040,-0.025,0.030,-0.055,0.025,-0.035,0.030,-0.020,0.025,-0.030,0.020,-0.025,0.015,
 -0.020,0.015,-0.012,0.010,-0.008,0.010,-0.012,0.015,-0.020,0.025,-0.015,0.030,-0.025,0.020,-0.030,0.025,-0.020,0.030,-0.025,0.020,
 -0.030,0.035,-0.025,0.030,-0.020,0.025,-0.035,0.030,-0.025,0.040,-0.030,0.025,-0.020,0.030,-0.030,0.035,-0.025,0.020,-0.030,0.025,
 -0.035,0.030,-0.020,0.025,-0.030,0.020,-0.025,0.035,-0.020,0.030,-0.030,0.025,-0.020,0.030,-0.025,0.020,-0.030,0.025,-0.015,0.030,
 -0.010];
const u89 = u89Y.map((y, i) => [i * u89Step, y]);

// y ranges and tick labels per panel
const names  = ['U1','U2','U3','U4','U5','U6','U7','U8','U9','U28','U34','U89'];
const seriesData = [u1,u2,u3,u4,u5,u6,u7,u8,u9,u28,u34,u89];
const yMin = [-0.064,-0.0807,-0.135,-0.318,-0.0798,-0.0384,-0.118,-0.0934,-0.0711,-0.134,-0.0663,-0.0889];
const yMax = [0.0503,0.0356,0.052,0.149,0.0366,0.118,0.0525,0.0429,0.0545,0.157,0.2887,0.0808];
const yTicks = [
 [-0.06,-0.04,-0.02,0,0.02,0.04],
 [-0.08,-0.06,-0.04,-0.02,0,0.02],
 [-0.12,-0.1,-0.08,-0.06,-0.04,-0.02,0,0.02,0.04],
 [-0.3,-0.25,-0.2,-0.15,-0.1,-0.05,0,0.05,0.1],
 [-0.06,-0.04,-0.02,0,0.02],
 [-0.02,0,0.02,0.04,0.06,0.08,0.1],
 [-0.1,-0.05,0,0.05],
 [-0.08,-0.06,-0.04,-0.02,0,0.02,0.04],
 [-0.06,-0.04,-0.02,0,0.02,0.04],
 [-0.1,-0.05,0,0.05,0.1,0.15],
 [-0.05,0,0.05,0.1,0.15,0.2,0.25],
 [-0.08,-0.06,-0.04,-0.02,0,0.02,0.04,0.06,0.08]
];

// ---------------- layout / style ----------------
const colLeft = [26, 263, 499], colW = [202, 202, 203];
const rowTop = [-1, 174, 349, 527], rowH = 159;
const FONT = '"Liberation Sans", Arial, Helvetica, sans-serif';
const MAG = '#ff33ff';
const lineW = [1.4,1.4,1.4,1.4,1.4,1.4,1.6,1.6,1.6,1.3,1.3,1];
const markerCfg = [['b','circle'],['b','circle'],['b','circle'],['b','circle'],['b','circle'],['t','circle'],
                   ['b','triangle'],['b','triangle'],['b','triangle'],['t','circle'],['t','circle'],['t','circle']];
const legendPos = [
 {left:195,top:141,w:12},{left:432,top:140,w:12},{left:668,top:140,w:12},
 {left:195,top:315,w:12},{left:432,top:315,w:12},{left:510,top:183,w:20,big:true},
 {left:195,top:490,w:12},{left:432,top:491,w:12},{left:668,top:490,w:12},
 {left:191,top:669,w:12},{left:383,top:540,w:18,big:true},{left:665,top:667,w:12}
];

function fmtY(v){
  if (Math.abs(v) < 1e-9) return '0';
  const s = String(parseFloat(Math.abs(v).toFixed(4)));
  return (v < 0 ? '\u2212' : '') + s;
}

const grids = [], xAxes = [], yAxes = [], series = [], legends = [];
names.forEach((nm, i) => {
  const r = Math.floor(i / 3), c = i % 3;
  grids.push({left: colLeft[c], top: rowTop[r], width: colW[c], height: rowH});
  const line = {show: true, onZero: false, lineStyle: {color: '#000', width: 1}};
  const tick = {show: true, inside: true, length: 3, lineStyle: {color: '#000', width: 1}};
  const lab = {fontSize: 9, color: '#262626', fontFamily: FONT, margin: 3};
  xAxes.push({gridIndex: i, type: 'value', min: 0, max: 2000, position: 'bottom', axisLine: line,
    axisTick: Object.assign({}, tick, {customValues: xTicks}),
    axisLabel: Object.assign({}, lab, {customValues: xTicks, formatter: v => String(v)}), splitLine: {show: false}});
  xAxes.push({gridIndex: i, type: 'value', min: 0, max: 2000, position: 'top', axisLine: line,
    axisTick: Object.assign({}, tick, {customValues: xTicks}), axisLabel: {show: false}, splitLine: {show: false}});
  yAxes.push({gridIndex: i, type: 'value', min: yMin[i], max: yMax[i], position: 'left', axisLine: line,
    axisTick: Object.assign({}, tick, {customValues: yTicks[i]}),
    axisLabel: Object.assign({}, lab, {customValues: yTicks[i], formatter: fmtY}), splitLine: {show: false}});
  yAxes.push({gridIndex: i, type: 'value', min: yMin[i], max: yMax[i], position: 'right', axisLine: line,
    axisTick: Object.assign({}, tick, {customValues: yTicks[i]}), axisLabel: {show: false}, splitLine: {show: false}});

  series.push({type: 'line', name: nm, xAxisIndex: 2*i, yAxisIndex: 2*i, data: seriesData[i],
    symbol: 'none', showSymbol: false, animation: false, z: 2,
    lineStyle: {color: '#ff0000', width: lineW[i]}, itemStyle: {color: '#ff0000'}});

  const mk = markerCfg[i];
  const sym = mk[0] === 'b' ? [mk[1], 'none'] : ['none', mk[1]];
  series.push({type: 'line', xAxisIndex: 2*i, yAxisIndex: 2*i, data: [[0,0],[2000,0]],
    symbol: 'none', silent: true, animation: false, z: 3,
    lineStyle: {color: '#1a1a1a', width: 1.2},
    markLine: {silent: true, animation: false, symbol: sym, symbolSize: 4,
      label: {show: false}, itemStyle: {color: MAG},
      lineStyle: {color: MAG, width: 1.2, type: [5, 2, 1, 2]},
      data: vlineX.map(x => [{coord: [x, yMin[i]]}, {coord: [x, yMax[i]]}])}});

  const lp = legendPos[i];
  legends.push({data: [nm], left: lp.left, top: lp.top, orient: 'horizontal', selectedMode: false,
    icon: 'rect', itemWidth: lp.w, itemHeight: 1.4, itemGap: 0,
    itemStyle: {color: '#ff0000'},
    padding: lp.big ? [4, 6, 4, 5] : [2, 3, 1, 3],
    borderColor: '#000', borderWidth: 1, backgroundColor: '#fff',
    shadowColor: '#000', shadowOffsetX: 1.5, shadowOffsetY: 1.5, shadowBlur: 0,
    formatter: n => '{u|U}{s|' + n.slice(1) + '}',
    textStyle: {rich: {
      u: {fontSize: 10, color: '#000', fontFamily: FONT, lineHeight: 12},
      s: {fontSize: 7, color: '#000', fontFamily: FONT, padding: [5, 0, 0, 0], lineHeight: 12}
    }}});
});

const chart = echarts.init(document.getElementById('c'), null, {renderer: 'canvas', width: 706, height: 702});
chart.setOption({animation: false, backgroundColor: '#fff', grid: grids, xAxis: xAxes, yAxis: yAxes, series: series, legend: legends});
</script>
</body></html>
